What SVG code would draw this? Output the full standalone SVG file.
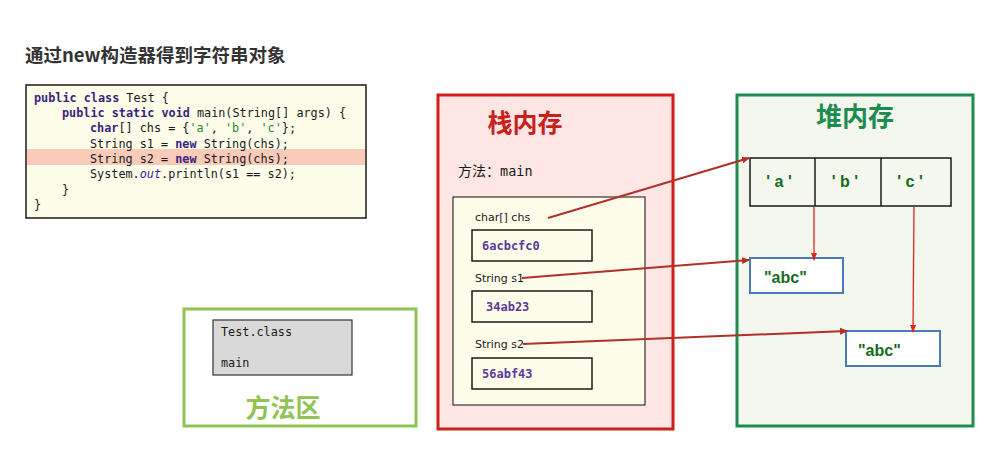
<svg xmlns="http://www.w3.org/2000/svg" width="996" height="462" viewBox="0 0 996 462">
<defs>
<style>
.mono{font-family:"DejaVu Sans Mono","Liberation Mono",monospace;font-size:11.8px;fill:#1a1a1a}
.kw{font-weight:bold;fill:#3a1f7f}
.str{fill:#2a8a2a}
.sans{font-family:"DejaVu Sans","Noto Sans",sans-serif;font-size:11px;fill:#1a1a1a}
.cjk{font-family:"Noto Sans CJK SC","Noto Sans",sans-serif;font-weight:bold}
.addr{font-family:"DejaVu Sans Mono","Liberation Mono",monospace;font-size:12px;font-weight:bold;fill:#5b3a99}
.heapt{font-family:"Liberation Sans","Noto Sans",sans-serif;font-size:16px;font-weight:bold;fill:#146b1e}
.ln{stroke:#b2302a;stroke-width:2;fill:none}
.ln2{stroke:#e0261e;stroke-width:1.3;fill:none}
</style>
<marker id="ah" markerWidth="8" markerHeight="8" refX="7" refY="4" orient="auto" markerUnits="userSpaceOnUse">
<path d="M0,0.5 L8,4 L0,7.5 Z" fill="#b2302a"/>
</marker>
<marker id="ah2" markerWidth="8" markerHeight="8" refX="7" refY="4" orient="auto" markerUnits="userSpaceOnUse">
<path d="M0,1 L8,4 L0,7 Z" fill="#e0261e"/>
</marker>
</defs>
<rect width="996" height="462" fill="#ffffff"/>
<text x="25" y="62" class="cjk" font-size="18.5" fill="#333333">通过new构造器得到字符串对象</text>

<g id="code">
<rect x="26" y="85" width="340" height="133" fill="#fdfde9" stroke="#1a1a1a" stroke-width="1.5"/>
<rect x="27" y="149" width="338" height="16" fill="#f9cbb8"/>
<text class="mono" x="34" y="102"><tspan class="kw">public class</tspan> Test {</text>
<text class="mono" x="62" y="117"><tspan class="kw">public static void</tspan> main(String[] args) {</text>
<text class="mono" x="90" y="132"><tspan class="kw">char</tspan>[] chs = {<tspan class="str">'a'</tspan>, <tspan class="str">'b'</tspan>, <tspan class="str">'c'</tspan>};</text>
<text class="mono" x="90" y="148">String s1 = <tspan class="kw">new</tspan> String(chs);</text>
<text class="mono" x="90" y="163">String s2 = <tspan class="kw">new</tspan> String(chs);</text>
<text class="mono" x="90" y="178">System.<tspan font-style="italic" fill="#3a1f9f">out</tspan>.println(s1 == s2);</text>
<text class="mono" x="62" y="194">}</text>
<text class="mono" x="34" y="209">}</text>
</g>

<g id="method-area">
<rect x="184" y="309" width="232" height="117" fill="#ffffff" stroke="#8fc454" stroke-width="3"/>
<rect x="213" y="320" width="139" height="55" fill="#d9d9d9" stroke="#333333" stroke-width="1.2"/>
<text class="mono" x="221" y="336" font-size="11.5">Test.class</text>
<text class="mono" x="221" y="367" font-size="11.5">main</text>
<text x="283" y="417" class="cjk" font-size="25" fill="#8fc454" text-anchor="middle">方法区</text>
</g>

<g id="stack">
<rect x="438" y="95" width="235" height="334" fill="#fde6e4" stroke="#d0201a" stroke-width="3"/>
<text x="525" y="132" class="cjk" font-size="25" fill="#c8201a" text-anchor="middle">栈内存</text>
<text x="458" y="176" font-family="Noto Sans CJK SC,DejaVu Sans Mono,monospace" font-size="14" fill="#1a1a1a">方法：<tspan font-family="DejaVu Sans Mono,monospace" font-size="13.5">main</tspan></text>
<rect x="453" y="197" width="192" height="208" fill="#fefde9" stroke="#333333" stroke-width="1.2"/>
<text class="sans" x="475" y="221">char[] chs</text>
<rect x="472" y="230" width="120" height="31" fill="none" stroke="#1a1a1a" stroke-width="1.5"/>
<text class="addr" x="482" y="250">6acbcfc0</text>
<text class="sans" x="475" y="282">String s1</text>
<rect x="472" y="291" width="120" height="31" fill="none" stroke="#1a1a1a" stroke-width="1.5"/>
<text class="addr" x="486" y="311">34ab23</text>
<text class="sans" x="475" y="348">String s2</text>
<rect x="472" y="358" width="120" height="31" fill="none" stroke="#1a1a1a" stroke-width="1.5"/>
<text class="addr" x="482" y="378">56abf43</text>
</g>

<g id="heap">
<rect x="737" y="95" width="236" height="331" fill="#f3f7ee" stroke="#1e8c50" stroke-width="3"/>
<text x="855" y="126" class="cjk" font-size="26" fill="#1e8c50" text-anchor="middle">堆内存</text>
</g>

<g id="array">
<rect x="750" y="158" width="201" height="48" fill="none" stroke="#1a1a1a" stroke-width="1.5"/>
<line x1="815" y1="158" x2="815" y2="206" stroke="#1a1a1a" stroke-width="1.5"/>
<line x1="881" y1="158" x2="881" y2="206" stroke="#1a1a1a" stroke-width="1.5"/>
<text class="heapt" x="779" y="187" text-anchor="middle">' a '</text>
<text class="heapt" x="845" y="187" text-anchor="middle">' b '</text>
<text class="heapt" x="910" y="187" text-anchor="middle">' c '</text>
</g>

<g id="str1">
<rect x="750" y="258" width="93" height="35" fill="#ffffff" stroke="#4a7ab8" stroke-width="2"/>
<text class="heapt" x="764" y="283">"abc"</text>
</g>

<g id="str2">
<rect x="846" y="331" width="94" height="35" fill="#ffffff" stroke="#4a7ab8" stroke-width="2"/>
<text class="heapt" x="858" y="356">"abc"</text>
</g>

<g id="connectors">
<line class="ln" x1="548" y1="218" x2="749" y2="158" marker-end="url(#ah)"/>
<line class="ln" x1="522" y1="278" x2="749" y2="260" marker-end="url(#ah)"/>
<line class="ln" x1="523" y1="344" x2="847" y2="331" marker-end="url(#ah)"/>
<line class="ln2" x1="814" y1="207" x2="814" y2="260" marker-end="url(#ah2)"/>
<line class="ln2" x1="914" y1="207" x2="913" y2="332" marker-end="url(#ah2)"/>
</g>
</svg>
